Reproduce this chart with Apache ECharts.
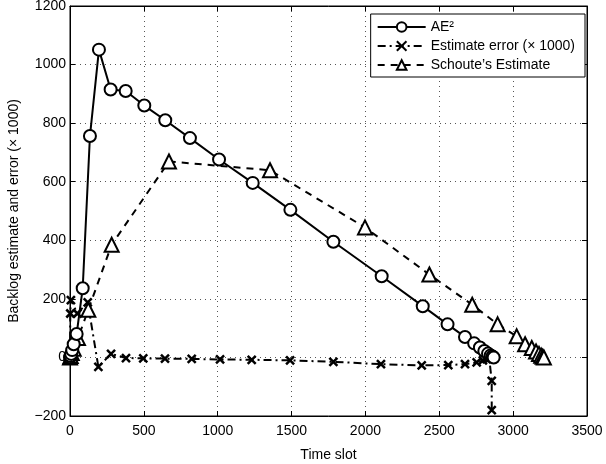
<!DOCTYPE html>
<html>
<head>
<meta charset="utf-8">
<script src="https://cdn.jsdelivr.net/npm/echarts@6/dist/echarts.min.js"></script>
<style>
  html, body { margin: 0; padding: 0; background: #fff; }
  #chart { width: 606px; height: 464px; }
</style>
</head>
<body>
<div id="chart"></div>
<script>
// values
const aeX = [0, 3, 8, 15, 25, 45, 86, 135, 196, 275, 377, 503, 645, 812, 1009, 1237, 1492, 1783, 2110, 2388, 2556, 2674, 2736, 2775, 2805, 2830, 2848, 2860, 2868];
const aeY = [0, 5, 12, 25, 45, 80, 236, 756, 1051, 915, 910, 860, 810, 749, 676, 596, 504, 395, 277, 175, 113, 70, 48, 34, 22, 13, 7, 3, 0];

const errX = [0, 2, 6, 50, 120, 192, 278, 379, 496, 643, 824, 1016, 1230, 1490, 1783, 2105, 2381, 2561, 2674, 2753, 2795, 2820, 2838, 2848, 2855, 2855];
const errY = [0, 150, 196, 150, 188, -32, 12, -2, -3, -4, -5, -7, -8, -10, -15, -23, -27, -26, -23, -17, -10, -6, -3, -1, -80, -180];

const schX = [0, 5, 12, 25, 54, 124, 282, 670, 1354, 1997, 2433, 2723, 2895, 3024, 3081, 3126, 3155, 3175, 3190, 3200, 3208];
const schY = [0, 5, 15, 30, 66, 163, 385, 669, 639, 444, 283, 180, 113, 72, 45, 32, 20, 12, 6, 2, 0];

const xTicks = { min: 0, max: 3500, interval: 500 };
const yTicks = { min: -200, max: 1200, interval: 200 };

const zip = (xs, ys) => xs.map((x, i) => [x, ys[i]]);

const FONT = "Liberation Sans";
const crossPath = "path://M0,0L10,10M10,0L0,10";
const plain = (v) => (v < 0 ? "\u2212" + Math.abs(v) : String(v));

const chart = echarts.init(document.getElementById("chart"));

const baseAxis = {
  axisLine: { show: true, onZero: false, lineStyle: { color: "#000", width: 1 } },
  axisTick: { show: true, inside: true, length: 5, lineStyle: { color: "#000" } },
  axisLabel: { color: "#000", fontSize: 14, fontFamily: FONT, formatter: plain },
};

chart.setOption({
  animation: false,
  backgroundColor: "#fff",
  textStyle: { fontFamily: FONT },
  grid: {
    left: 70, right: 19, top: 6, bottom: 48, show: true, borderColor: "#000", borderWidth: 1,
    outerBoundsMode: "none", containLabel: false,
  },
  legend: {
    right: 21, top: 14, orient: "vertical",
    backgroundColor: "#fff", borderColor: "#000", borderWidth: 1,
    padding: [6, 10, 5, 6], itemGap: 5,
    itemWidth: 48, itemHeight: 12,
    textStyle: { fontSize: 14, color: "#000", fontFamily: FONT },
    data: ["AE²", "Estimate error (× 1000)", "Schoute’s Estimate"],
  },
  xAxis: [
    {
      ...baseAxis, type: "value", ...xTicks,
      name: "Time slot", nameLocation: "middle", nameGap: 32,
      nameTextStyle: { fontSize: 14, color: "#000", fontFamily: FONT },
      splitLine: { show: true, lineStyle: { type: [1, 4], color: "#555" } },
      axisLabel: { ...baseAxis.axisLabel, margin: 8 },
    },
    {
      ...baseAxis, type: "value", ...xTicks, position: "top",
      axisLabel: { show: false }, splitLine: { show: false },
    },
  ],
  yAxis: [
    {
      ...baseAxis, type: "value", ...yTicks,
      name: "Backlog estimate and error (× 1000)", nameLocation: "middle", nameGap: 49,
      nameTextStyle: { fontSize: 14, color: "#000", fontFamily: FONT },
      splitLine: { show: true, lineStyle: { type: [1, 4], color: "#555" } },
      axisLabel: { ...baseAxis.axisLabel, margin: 4 },
    },
    {
      ...baseAxis, type: "value", ...yTicks, position: "right",
      axisLabel: { show: false }, splitLine: { show: false },
    },
  ],
  series: [
    {
      name: "AE²", type: "line", data: zip(aeX, aeY),
      symbol: "circle", symbolSize: 12, showAllSymbol: true,
      lineStyle: { color: "#000", width: 2 },
      itemStyle: { color: "#fff", borderColor: "#000", borderWidth: 2 },
      z: 3,
    },
    {
      name: "Estimate error (× 1000)", type: "line", data: zip(errX, errY),
      symbol: crossPath, symbolSize: 8, showAllSymbol: true,
      lineStyle: { color: "#000", width: 2, type: [8, 4, 2, 4] },
      itemStyle: { color: "#000", borderColor: "#000", borderWidth: 2.5 },
      z: 2,
    },
    {
      name: "Schoute’s Estimate", type: "line", data: zip(schX, schY),
      symbol: "triangle", symbolSize: 14, showAllSymbol: true,
      lineStyle: { color: "#000", width: 2, type: [7, 6] },
      itemStyle: { color: "#fff", borderColor: "#000", borderWidth: 2 },
      z: 2,
    },
  ],
});
</script>
</body>
</html>
